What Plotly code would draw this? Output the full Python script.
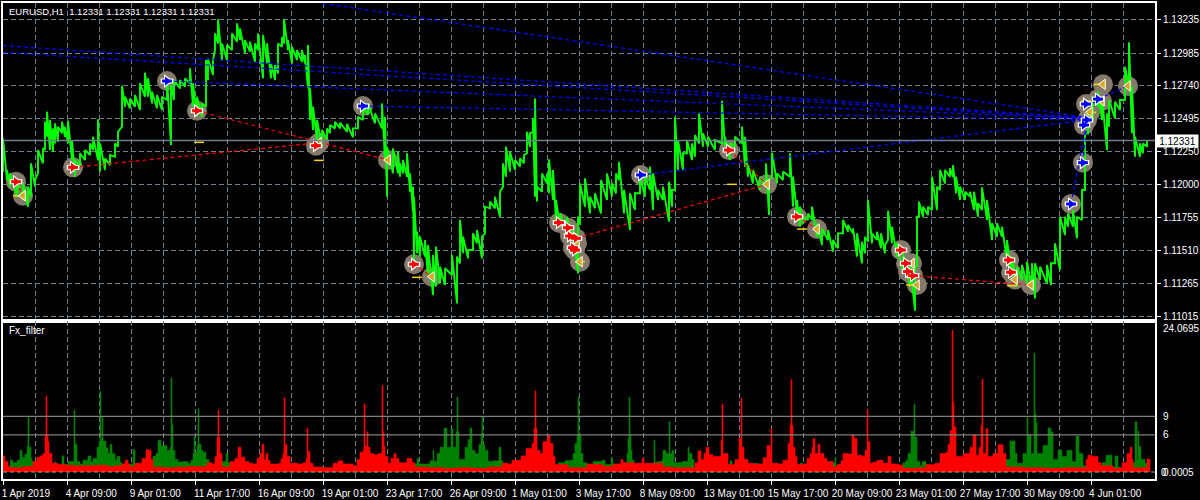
import plotly.graph_objects as go

# ---------- price data (bar index, high, low) ----------
bar_index = [0,4,7,14,20,25,28,32,35,40,42,44,47,50,52,55,59,62,65,69,72,77,82,87,90,95,97,102,107,112,115,119,122,127,132,137,142,145,149,154,159,164,168,171,177,182,187,190,194,199,203,205,210,212,215,219,224,229,234,237,242,247,252,255,260,264,268,272,275,279,281,285,289,294,299,302,305,307,310,314,319,324,327,332,337,344,350,355,360,365,372,379,382,384,390,395,
397,400,404,407,410,411,414,417,422,425,430,433,437,442,449,454,457,460,465,470,474,479,482,487,492,497,500,503,507,512,517,521,524,527,530,532,534,539,544,546,550,553,557,564,570,575,577,582,587,592,598,604,609,613,616,621,627,632,637,642,647,650,655,660,666,669,672,675,680,684,689,692,696,700,705,712,719,722,727,732,739,742,745,750,757,763,766,769,774,780,787,790,794,
797,800,805,809,814,819,825,830,835,840,845,850,854,859,862,865,869,874,878,882,885,889,894,900,907,912,914,916,920,925,929,934,937,942,947,950,953,957,962,967,971,975,979,984,989,994,999,1004,1009,1014,1019,1024,1029,1032,1037,1044,1048,1052,1057,1062,1065,1070,1074,1079,1082,1085,1090,1095,1099,1104,1106,1112,1117,1122,1126,1129,1132,1137,1140,1144]
highs = [1.12348,1.12111,1.12086,1.12036,1.12011,1.11987,1.12161,1.12036,1.12260,1.12273,1.12472,1.12547,1.12485,1.12422,1.12460,1.12435,1.12472,1.12435,1.12480,1.12335,1.12186,1.12236,1.12260,1.12310,1.12360,1.12490,1.12310,1.12198,1.12223,1.12310,1.12397,1.12739,1.12659,1.12646,1.12671,1.12759,1.12838,1.12796,1.12696,1.12671,1.12659,1.12796,1.12746,1.12783,1.12783,1.12796,1.12871,1.12759,1.12659,1.12609,1.12933,1.12945,1.12933,1.13132,1.13237,1.13057,1.13045,1.13132,1.13207,1.13169,1.13082,1.13070,1.13057,1.13132,1.13120,1.13057,1.12908,1.12895,1.13057,1.13107,1.13239,1.13082,1.13032,1.13007,1.13007,1.12970,1.13045,1.12721,1.12584,1.12485,1.12410,1.12422,1.12447,1.12472,1.12465,1.12455,1.12422,1.12509,1.12584,1.12609,1.12534,1.12609,1.12509,1.12285,1.12273,1.12248,
1.12161,1.12186,1.12236,1.12086,1.11987,1.11912,1.11650,1.11613,1.11588,1.11551,1.11476,1.11538,1.11389,1.11377,1.11476,1.11464,1.11738,1.11613,1.11514,1.11638,1.11663,1.11613,1.11837,1.11875,1.11912,1.11949,1.12161,1.12285,1.12248,1.12186,1.12198,1.12223,1.12397,1.12385,1.12497,1.12646,1.11987,1.12086,1.12086,1.12191,1.12111,1.11887,1.11787,1.11762,1.11688,1.11762,1.12011,1.12049,1.11912,1.11937,1.12036,1.12086,1.12011,1.12086,1.12173,1.11962,1.11937,1.11937,1.12061,1.12061,1.12136,1.12086,1.11962,1.11987,1.12024,1.11962,1.12509,1.12335,1.12236,1.12335,1.12310,1.12372,1.12534,1.12385,1.12360,1.12335,1.12629,1.12360,1.12310,1.12360,1.12435,1.12360,1.12148,1.12111,1.12061,1.12161,1.12036,1.12241,1.12086,1.12099,1.12236,1.12061,1.11887,
1.11837,1.11762,1.11787,1.11837,1.11713,1.11675,1.11663,1.11588,1.11638,1.11738,1.11700,1.11675,1.11638,1.11576,1.11613,1.11887,1.11638,1.11650,1.11638,1.11551,1.11807,1.11688,1.11563,1.11489,1.11414,1.11389,1.11762,1.11875,1.11837,1.11837,1.12061,1.11987,1.12111,1.12111,1.12124,1.12148,1.12061,1.11987,1.11949,1.11949,1.11949,1.11862,1.11982,1.11887,1.11713,1.11713,1.11688,1.11588,1.11464,1.11389,1.11401,1.11426,1.11414,1.11414,1.11389,1.11401,1.11414,1.11563,1.11762,1.11762,1.11787,1.11812,1.11762,1.11962,1.12385,1.12559,1.12659,1.12696,1.12659,1.12534,1.12634,1.12621,1.12634,1.12883,1.13065,1.12734,1.12360,1.12310,1.12310,1.12335]
lows = [1.12099,1.12036,1.11987,1.11912,1.11887,1.11837,1.11912,1.11987,1.12086,1.12161,1.12260,1.12360,1.12260,1.12248,1.12310,1.12323,1.12385,1.12360,1.12310,1.12186,1.12061,1.12136,1.12186,1.12223,1.12260,1.12186,1.12099,1.12111,1.12148,1.12211,1.12285,1.12435,1.12584,1.12572,1.12584,1.12559,1.12659,1.12659,1.12609,1.12572,1.12559,1.12634,1.12298,1.12634,1.12721,1.12734,1.12759,1.12584,1.12509,1.12509,1.12584,1.12783,1.12821,1.13007,1.13057,1.12933,1.12933,1.13007,1.13070,1.13082,1.12983,1.12995,1.12920,1.13007,1.12796,1.12908,1.12796,1.12783,1.12833,1.13032,1.13057,1.13007,1.12908,1.12933,1.12920,1.12908,1.12721,1.12485,1.12410,1.12335,1.12285,1.12335,1.12385,1.12422,1.12422,1.12397,1.12355,1.12422,1.12485,1.12522,1.12460,1.12422,1.12186,1.11912,1.12086,1.12086,
1.12061,1.12086,1.12061,1.11949,1.11800,1.11414,1.11489,1.11464,1.11464,1.11314,1.11177,1.11240,1.11264,1.11252,1.11327,1.11115,1.11414,1.11489,1.11451,1.11514,1.11563,1.11451,1.11638,1.11825,1.11825,1.11762,1.11987,1.12061,1.12099,1.12111,1.12136,1.12161,1.12236,1.12285,1.12397,1.11912,1.11875,1.11949,1.12011,1.11937,1.11887,1.11738,1.11688,1.11638,1.11563,1.11339,1.11700,1.11837,1.11787,1.11825,1.11787,1.11887,1.11912,1.11937,1.12036,1.11787,1.11663,1.11812,1.11937,1.11912,1.11962,1.11812,1.11887,1.11887,1.11725,1.11837,1.11962,1.12111,1.12111,1.12236,1.12186,1.12211,1.12310,1.12285,1.12285,1.12260,1.12310,1.12285,1.12186,1.12285,1.12310,1.12136,1.12061,1.12011,1.11962,1.11987,1.11775,1.12061,1.12011,1.12036,1.12061,1.11837,1.11787,
1.11688,1.11713,1.11738,1.11738,1.11613,1.11551,1.11588,1.11501,1.11526,1.11638,1.11650,1.11638,1.11464,1.11414,1.11489,1.11576,1.11563,1.11588,1.11526,1.11489,1.11588,1.11563,1.11464,1.11339,1.11240,1.11060,1.11389,1.11762,1.11762,1.11775,1.11812,1.11812,1.11962,1.12011,1.12061,1.12061,1.11937,1.11887,1.11887,1.11912,1.11812,1.11762,1.11812,1.11738,1.11588,1.11613,1.11613,1.11439,1.11314,1.11240,1.11289,1.11264,1.11215,1.11152,1.11289,1.11264,1.11252,1.11414,1.11364,1.11625,1.11688,1.11688,1.11600,1.11738,1.11962,1.12385,1.12485,1.12584,1.12485,1.12260,1.12435,1.12497,1.12559,1.12634,1.12734,1.12385,1.12211,1.12211,1.12236,1.12285]

# ---------- oscillator data (stepped histogram tops) ----------
green_bars = [7,10,14,17,19,22,24,25,26,28,29,30,52,53,59,61,65,71,72,74,77,80,85,88,90,94,96,97,98,99,100,103,105,107,109,112,114,117,119,127,130,132,135,
150,153,155,158,161,164,167,168,169,170,172,175,180,185,188,190,191,192,194,195,196,198,200,203,206,219,223,225,227,
412,414,416,426,427,430,431,433,434,437,441,444,448,450,453,454,455,456,458,462,465,467,469,472,476,478,479,480,482,485,490,496,498,500,555,557,562,567,570,572,574,575,576,578,580,584,590,594,599,602,608,610,621,624,625,626,627,628,629,631,
650,651,652,655,659,660,663,666,667,669,671,674,679,685,686,689,691,726,727,729,751,755,797,800,828,832,833,
900,903,905,908,911,912,914,917,919,923,1003,1007,1012,1014,1020,1024,1025,1028,1031,1032,1033,1034,1040,1045,1048,1050,1055,1059,1064,1069,1073,1076,1080,1083,1099,1103,1109,1112,1115,1118,1130,1132,1134,1135,1136,1138,1142,1144]
green_values = [1.9,1.5,1.9,3.5,2.4,2.9,4.1,8.9,4.0,2.2,1.7,0,1.6,1.2,2.6,1.2,1.7,10.0,4.5,1.7,1.3,1.9,2.6,1.6,2.2,4.0,5.0,13.0,5.4,8.9,5.0,3.9,3.0,4.5,3.0,1.9,2.5,1.5,0,1.3,3.6,1.3,0,
2.5,3.0,5.1,4.2,4.3,3.5,4.0,15.2,7.6,3.5,2.0,1.6,1.7,1.4,1.9,3.0,5.7,3.2,4.3,10.2,4.5,3.5,3.2,2.0,0,1.7,3.0,1.5,0,
1.3,2.2,1.3,1.3,1.8,3.5,1.7,1.7,3.0,4.0,7.1,4.0,7.0,4.0,6.5,12.1,6.5,2.0,2.0,4.0,5.2,7.1,3.5,3.0,4.5,6.2,8.9,4.4,3.5,1.7,1.8,4.0,1.8,0,1.5,1.5,1.8,1.9,3.0,4.6,6.0,12.1,6.0,3.0,1.5,0,1.7,1.7,1.9,1.2,2.2,0,1.5,3.0,5.4,12.1,6.0,3.5,1.9,0,
1.5,5.1,1.6,1.7,2.0,3.5,3.0,8.1,3.0,3.5,1.5,1.5,1.7,4.0,3.0,2.0,0,1.3,1.8,0,1.4,0,1.4,0,1.5,2.4,0,
1.5,1.9,3.0,6.6,11.0,5.6,1.7,1.0,1.7,0,2.0,5.0,3.0,1.4,3.0,8.9,6.0,3.0,19.2,9.4,8.0,3.0,4.3,7.1,6.5,2.0,3.5,2.5,3.5,1.7,5.8,3.0,1.0,0,1.5,2.7,0.8,2.6,0.8,0,1.5,8.1,2.0,6.6,4.1,2.0,1.4,0]
red_bars = [0,2,5,7,20,30,34,37,40,42,43,44,45,46,49,55,62,70,80,92,105,112,119,122,125,127,132,139,143,146,148,150,160,172,185,204,209,212,214,215,216,217,219,227,232,235,238,242,246,250,254,257,259,261,263,265,267,270,276,278,280,281,282,284,287,295,300,303,304,305,307,310,320,330,335,340,345,350,353,354,357,360,361,362,364,365,367,371,375,379,380,381,382,385,388,391,393,396,
397,404,409,412,425,440,455,470,485,499,505,509,514,518,523,527,529,531,532,533,534,537,540,544,545,547,550,552,565,584,590,600,610,615,618,620,631,637,639,641,647,660,670,692,695,698,701,703,706,710,718,719,720,722,725,729,732,736,738,739,741,745,750,755,760,764,767,768,769,775,780,785,787,788,789,790,792,794,
800,804,807,809,810,812,815,817,821,824,830,834,838,840,845,849,851,854,859,862,864,865,867,870,874,880,885,888,893,897,900,915,923,932,937,943,945,947,949,950,951,953,957,960,967,970,973,976,978,979,980,983,985,990,995,1000,1003,1020,1040,1060,1083,1085,1089,1095,1098,1110,1119,1124,1127,1129,1130,1144,1147]
red_values = [2.6,1.7,0.9,0.7,0.9,1.7,2.4,2.6,3.0,6.0,12.2,6.0,4.9,3.0,1.4,1.2,1.1,1.0,1.0,1.1,0.9,1.0,1.3,1.9,1.3,0.9,1.4,2.2,3.6,3.5,2.0,0.8,0.7,0.8,0.9,1.5,1.3,2.5,5.6,10.0,5.6,3.0,0.8,1.7,2.2,4.0,2.4,1.7,1.4,1.3,2.2,3.0,4.5,2.0,3.0,1.9,1.3,1.3,1.4,2.2,3.0,12.0,4.4,2.5,1.4,1.3,1.5,2.2,7.1,3.3,1.4,0.8,0.7,1.4,1.8,1.3,1.3,1.0,0.9,2.0,3.2,3.5,11.0,4.2,6.5,4.0,3.0,2.8,3.0,14.0,6.5,4.1,2.5,1.4,2.2,3.0,2.2,1.5,
1.5,2.2,1.5,0.8,0.7,0.6,0.7,0.6,0.8,1.4,1.3,1.9,1.9,2.6,3.8,3.8,4.6,7.0,13.1,7.0,3.5,3.0,4.9,5.4,6.0,4.6,2.5,1.2,0.7,1.3,1.2,0.9,1.3,1.3,2.0,1.5,1.4,1.4,2.2,1.4,1.4,0.8,0.7,1.5,3.4,2.0,3.0,4.0,2.8,2.5,5.1,11.0,3.0,3.0,1.2,1.2,2.0,5.4,11.9,4.0,2.0,1.4,1.3,1.3,2.3,4.3,3.5,7.0,1.4,1.3,1.9,4.6,7.5,14.9,7.5,4.0,2.5,1.2,
1.3,2.2,3.0,4.0,5.4,3.0,4.5,3.0,2.2,1.7,0.8,1.2,1.8,3.0,2.9,6.0,5.4,2.7,2.5,3.5,10.0,4.9,1.4,1.6,1.9,1.4,2.5,1.3,1.2,1.1,0.6,0.7,1.2,1.4,3.0,3.2,4.5,6.7,22.9,11.3,7.3,2.5,2.5,3.0,4.0,6.0,2.7,4.0,7.5,15.0,3.0,7.0,2.5,3.0,4.4,3.0,0.8,0.7,0.6,0.7,2.0,2.7,2.5,1.5,1.0,0.6,1.5,3.0,4.0,2.0,0.7,2.1,0]

# ---------- trades ----------
red_entry_bars = [13,70,194,313,411,556,565,567,573,570,572,726,794,898,903,905,910,1006,1008]
red_entry_prices = [1.12024,1.12131,1.12554,1.12293,1.11407,1.11718,1.11680,1.11618,1.11601,1.11531,1.11513,1.12260,1.11762,1.11513,1.11414,1.11352,1.11322,1.11439,1.11347]
blue_entry_bars = [164,360,638,1068,1080,1081,1084,1083,1095]
blue_entry_prices = [1.12776,1.12589,1.12074,1.11857,1.12166,1.12447,1.12485,1.12604,1.12641]
exit_bars = [20,316,385,429,574,577,764,814,909,914,1012,1028,1087,1099,1100,1125]
exit_prices = [1.11919,1.12315,1.12186,1.11314,1.11563,1.11426,1.12004,1.11670,1.11414,1.11252,1.11294,1.11252,1.12542,1.12627,1.12751,1.12739]
close_mark_bars = [15,196,316,414,729,799,908,1009,1088,1083,1096,577]
close_mark_prices = [1.11919,1.12318,1.12183,1.11309,1.12004,1.11670,1.11252,1.11247,1.12542,1.12627,1.12751,1.11426]

red_link_open_bars = [13,70,194,411,573,726,794,910]
red_link_open_prices = [1.12024,1.12131,1.12554,1.11407,1.11601,1.12260,1.11762,1.11322]
red_link_close_bars = [20,316,385,429,764,764,814,1028]
red_link_close_prices = [1.11919,1.12315,1.12186,1.11314,1.12004,1.12004,1.11670,1.11252]
blue_link_open_bars = [0,0,320,164,360,638,1068,1080,1095,1083]
blue_link_open_prices = [1.13040,1.12990,1.13356,1.12776,1.12589,1.12074,1.11857,1.12166,1.12641,1.12604]
blue_link_close_bars = [1080,1080,1080,1080,1080,1084,1083,1084,1125,1099]
blue_link_close_prices = [1.12504,1.12497,1.12509,1.12497,1.12485,1.12485,1.12447,1.12485,1.12739,1.12627]

# ---------- axes text ----------
date_labels = ["1 Apr 2019","4 Apr 09:00","9 Apr 01:00","11 Apr 17:00","16 Apr 09:00","19 Apr 01:00","23 Apr 17:00","26 Apr 09:00","1 May 01:00","3 May 17:00","8 May 09:00","13 May 01:00","15 May 17:00","20 May 09:00","23 May 01:00","27 May 17:00","30 May 09:00","4 Jun 01:00"]
date_ticks = [i*64 for i in range(len(date_labels))]
grid_ticks = [32+i*64 for i in range(18)]
price_ticks = [1.13235,1.12985,1.12740,1.12495,1.12250,1.12000,1.11755,1.11510,1.11265,1.11015]
price_labels = [f"{p:.5f}" for p in price_ticks]
last_price = 1.12331
osc_ticks = [0.0005,6,9,23.1]
osc_labels = ["0.0005","6","9","24.0695"]
osc_levels = [6,9]

FONT = "Liberation Sans"
FS = 10
GRID = "#708090"
fig = go.Figure()

def zig(xs, hi, lo):
    X, Y = [], []
    for a, b, c in zip(xs, lo, hi):
        X += [a, a]; Y += [b, c]
    return X, Y

def links(a, b, c, d):
    X, Y = [], []
    for p, q, r, s in zip(a, b, c, d):
        X += [p, r, None]; Y += [q, s, None]
    return X, Y

def pad(t):
    n = {10: 3, 11: 2}.get(len(t), 0)
    return t + "\u00a0" * n

# halos below the price
fig.add_trace(go.Scatter(x=red_entry_bars+blue_entry_bars+exit_bars, y=red_entry_prices+blue_entry_prices+exit_prices,
    mode="markers", marker=dict(symbol="circle", size=20, color="#85796A"), hoverinfo="skip"))
px_x, px_y = zig(bar_index, highs, lows)
fig.add_trace(go.Scatter(x=px_x, y=px_y, mode="lines", line=dict(color="#00FF00", width=1.9), name="EURUSD"))
lx, ly = links(blue_link_open_bars, blue_link_open_prices, blue_link_close_bars, blue_link_close_prices)
fig.add_trace(go.Scatter(x=lx, y=ly, mode="lines", line=dict(color="#0000FF", width=1.2, dash="4px,3px"), hoverinfo="skip"))
lx, ly = links(red_link_open_bars, red_link_open_prices, red_link_close_bars, red_link_close_prices)
fig.add_trace(go.Scatter(x=lx, y=ly, mode="lines", line=dict(color="#FF0000", width=1.2, dash="4px,3px"), hoverinfo="skip"))
fig.add_trace(go.Scatter(x=close_mark_bars, y=close_mark_prices, mode="markers",
    marker=dict(symbol="line-ew", size=7, line=dict(color="#FFD700", width=1.5)), hoverinfo="skip"))
fig.add_trace(go.Scatter(x=exit_bars, y=exit_prices, mode="markers",
    marker=dict(symbol="triangle-left", size=9, color="#DAA520", line=dict(color="white", width=1)), hoverinfo="skip"))
for bars, prices, col in [(red_entry_bars, red_entry_prices, "#FF0000"), (blue_entry_bars, blue_entry_prices, "#0000FF")]:
    fig.add_trace(go.Scatter(x=bars, y=prices, mode="markers",
        marker=dict(symbol="line-ew", size=9, line=dict(color="white", width=5)), hoverinfo="skip"))
    fig.add_trace(go.Scatter(x=bars, y=prices, mode="markers",
        marker=dict(symbol="triangle-right", size=12, color="white"), hoverinfo="skip"))
    fig.add_trace(go.Scatter(x=bars, y=prices, mode="markers",
        marker=dict(symbol="line-ew", size=7, line=dict(color=col, width=3)), hoverinfo="skip"))
    fig.add_trace(go.Scatter(x=bars, y=prices, mode="markers",
        marker=dict(symbol="triangle-right", size=8, color=col), hoverinfo="skip"))

# oscillator
fig.add_trace(go.Scatter(x=green_bars, y=green_values, xaxis="x2", yaxis="y2", mode="lines", fill="tozeroy",
    line=dict(shape="hv", width=0.6, color="#008000"), fillcolor="#008000", name="Fx_filter up"))
fig.add_trace(go.Scatter(x=red_bars, y=red_values, xaxis="x2", yaxis="y2", mode="lines", fill="tozeroy",
    line=dict(shape="hv", width=0.6, color="#FF0000"), fillcolor="#FF0000", name="Fx_filter down"))

shapes = [dict(type="line", xref="x", yref="y", x0=0, x1=1152, y0=last_price, y1=last_price,
               line=dict(color=GRID, width=1.5), layer="above")]
for lv in osc_levels:
    shapes.append(dict(type="line", xref="x2", yref="y2", x0=0, x1=1152, y0=lv, y1=lv, line=dict(color="#808080", width=1.2), layer="above"))
shapes.append(dict(type="line", xref="x2", yref="y2", x0=0, x1=1152, y0=0, y1=0, line=dict(color="#A0A0A0", width=1, dash="4px,3px"), layer="above"))

axis_line = dict(showline=True, linecolor="white", linewidth=2, mirror=True, zeroline=False)
tf = dict(family=FONT, size=FS, color="white")
h = 476.0
fig.update_layout(
    width=1200, height=500, margin=dict(l=3, r=45, t=3, b=21, pad=0, autoexpand=False), showlegend=False,
    paper_bgcolor="black", plot_bgcolor="black", hovermode=False,
    font=tf,
    xaxis=dict(domain=[0, 1], range=[0, 1152], tickmode="array", tickvals=date_ticks, ticktext=[""]*18, ticks="",
               showgrid=True, gridcolor=GRID, griddash="5px,3px", gridwidth=1, layer="below traces",
               minor=dict(tickmode="array", tickvals=grid_ticks, showgrid=True, gridcolor=GRID, griddash="5px,3px", gridwidth=1, ticks=""), **axis_line),
    yaxis=dict(domain=[158.0/h, 1], range=[1.10983, 1.13359], side="right", tickmode="array", tickvals=price_ticks, ticktext=price_labels,
               ticks="outside", ticklen=4, tickcolor="white", showgrid=True, gridcolor=GRID, griddash="5px,3px", gridwidth=1,
               tickfont=tf, layer="below traces", **axis_line),
    xaxis2=dict(domain=[0, 1], anchor="y2", range=[0, 1152], tickmode="array", tickvals=date_ticks, ticktext=[pad(t) for t in date_labels], tickangle=0,
                ticks="outside", ticklen=4, tickcolor="white", showgrid=True, gridcolor=GRID, griddash="5px,3px", gridwidth=1,
                ticklabelshift=27, ticklabeloverflow="allow", tickfont=tf, layer="above traces",
                minor=dict(tickmode="array", tickvals=grid_ticks, showgrid=True, gridcolor=GRID, griddash="5px,3px", gridwidth=1, ticks=""), **axis_line),
    yaxis2=dict(domain=[0, 158.0/h], anchor="x2", range=[-1.13, 24.39], side="right", tickmode="array", tickvals=osc_ticks, ticktext=osc_labels,
                ticks="outside", ticklen=4, tickcolor="black", showgrid=False, tickfont=tf, **axis_line),
    shapes=shapes,
    annotations=[
        dict(text="EURUSD,H1\u00a0\u00a01.12331 1.12331 1.12331 1.12331", xref="paper", yref="paper", x=0.0035, y=0.9985, xanchor="left", yanchor="top",
             showarrow=False, font=dict(family=FONT, size=9.5, color="white")),
        dict(text="Fx_filter", xref="paper", yref="paper", x=0.0035, y=156.0/h, xanchor="left", yanchor="top",
             showarrow=False, font=tf),
        dict(text="1.12331", xref="paper", yref="y", x=1.0, y=last_price, xanchor="left", yanchor="middle", xshift=1, width=41, height=12,
             showarrow=False, bgcolor="white", font=dict(family=FONT, size=FS, color="black"), borderpad=0),
        dict(text="0", xref="paper", yref="y2", x=1.0, y=0, xanchor="left", yanchor="middle", xshift=4,
             showarrow=False, font=tf),
    ],
)
fig.write_html("out.html", config=dict(displayModeBar=False), post_script="document.body.style.margin='0';document.body.style.background='black';")
